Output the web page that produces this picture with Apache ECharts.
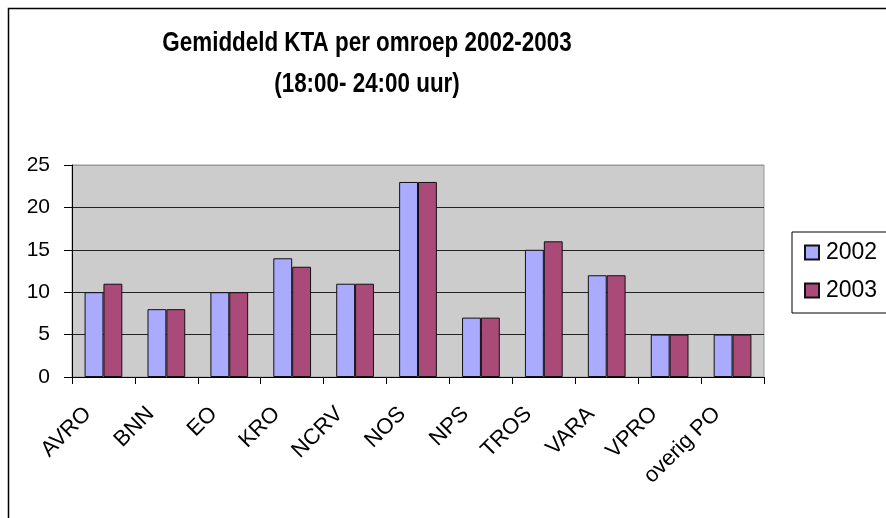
<!DOCTYPE html>
<html>
<head>
<meta charset="utf-8">
<script src="https://cdn.jsdelivr.net/npm/echarts@6/dist/echarts.min.js"></script>
<style>
  html, body { margin: 0; padding: 0; background: #fff; }
  #chart { width: 886px; height: 518px; }
</style>
</head>
<body>
<div id="chart"></div>
<script>
// omroepen op de x-as
var categories = ['AVRO', 'BNN', 'EO', 'KRO', 'NCRV', 'NOS', 'NPS', 'TROS', 'VARA', 'VPRO', 'overig PO'];
var kta2002 = [10, 8, 10, 14, 11, 23, 7, 15, 12, 5, 5];
var kta2003 = [11, 8, 10, 13, 11, 23, 7, 16, 12, 5, 5];
var yTicks = [0, 5, 10, 15, 20, 25];
var titleText = 'Gemiddeld KTA per omroep 2002-2003\n(18:00- 24:00 uur)';

var chart = echarts.init(document.getElementById('chart'));

var font = 'Arial, "Liberation Sans", sans-serif';

var option = {
    animation: false,
    backgroundColor: '#fff',
    graphic: [{
        // kader om de hele grafiek
        type: 'rect',
        shape: { x: 8.5, y: 8.5, width: 1000, height: 1000 },
        style: { fill: 'none', stroke: '#000', lineWidth: 1.5 },
        silent: true
    }, {
        // titel, iets smaller geschaald zoals in het origineel
        type: 'text',
        x: 367,
        y: 23,
        scaleX: 0.83,
        silent: true,
        style: {
            text: titleText,
            align: 'center',
            verticalAlign: 'top',
            fontWeight: 'bold',
            fontSize: 27,
            fontFamily: font,
            lineHeight: 41,
            fill: '#000'
        }
    }],
    legend: {
        orient: 'vertical',
        left: 792,
        top: 232,
        padding: [9, 40, 11, 12],
        itemGap: 15,
        itemWidth: 14,
        itemHeight: 14,
        icon: 'rect',
        borderColor: '#000',
        borderWidth: 1,
        textStyle: { fontFamily: font, fontSize: 23, color: '#000', padding: [0, 0, 0, 2] },
        data: ['2002', '2003']
    },
    grid: {
        left: 72,
        top: 165,
        right: 122,
        bottom: 141,
        show: true,
        backgroundColor: '#CCCCCC',
        borderColor: '#999',
        borderWidth: 1
    },
    xAxis: {
        type: 'category',
        data: categories,
        boundaryGap: true,
        axisLine: { lineStyle: { color: '#000', width: 1 } },
        axisTick: { show: true, length: 7, alignWithLabel: false, lineStyle: { color: '#000' } },
        axisLabel: {
            rotate: 45,
            interval: 0,
            margin: 18,
            fontFamily: font,
            fontSize: 22,
            color: '#000',
            padding: [0, 22, 0, 0]
        }
    },
    yAxis: {
        type: 'value',
        min: 0,
        max: 25,
        interval: 5,
        axisLine: { show: true, lineStyle: { color: '#000', width: 1 } },
        axisTick: { show: true, length: 8, lineStyle: { color: '#000' } },
        axisLabel: {
            margin: 22,
            fontFamily: font,
            fontSize: 21,
            color: '#000',
            formatter: function (v) { return yTicks.indexOf(v) >= 0 ? String(v) : ''; }
        },
        splitLine: {
            show: true,
            lineStyle: { color: ['#222', '#222', '#222', '#222', '#222', '#999'], width: 1 }
        }
    },
    series: [{
        name: '2002',
        type: 'bar',
        data: kta2002,
        barGap: '0%',
        barCategoryGap: '40%',
        itemStyle: { color: '#AAAAFF', borderColor: '#111', borderWidth: 1 }
    }, {
        name: '2003',
        type: 'bar',
        data: kta2003,
        barGap: '0%',
        barCategoryGap: '40%',
        itemStyle: { color: '#AA4A78', borderColor: '#111', borderWidth: 1 }
    }]
};

chart.setOption(option);
</script>
</body>
</html>
